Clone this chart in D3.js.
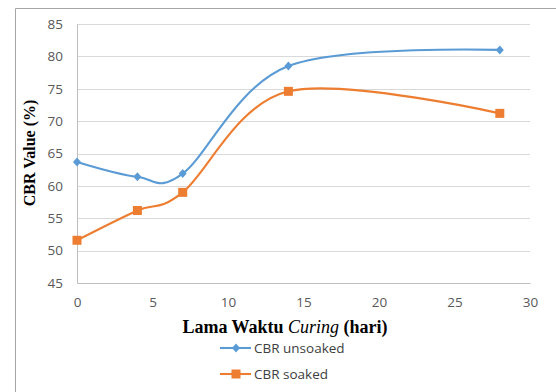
<!DOCTYPE html>
<html><head><meta charset="utf-8">
<script src="https://cdn.jsdelivr.net/npm/d3@7"></script>
<style>body{margin:0;background:#fff}svg{display:block}</style>
</head><body>
<svg id="c" width="556" height="392"></svg>
<script>
const days = [0, 4, 7, 14, 28];
const unsoaked = [63.7, 61.4, 61.9, 78.5, 81.0];
const soaked = [51.6, 56.2, 59.0, 74.6, 71.2];
const xTicks = [0, 5, 10, 15, 20, 25, 30];
const yTicks = [45, 50, 55, 60, 65, 70, 75, 80, 85];
const seriesNames = ["CBR unsoaked", "CBR soaked"];
const colors = ["#5B9BD5", "#ED7D31"];

const svg = d3.select("#c");
const x = d3.scaleLinear().domain([0, 30]).range([77, 530]);
const y = d3.scaleLinear().domain([45, 85]).range([283, 24]);

// frame
svg.append("path").attr("d", "M15.5,392 V8.5 H556").attr("fill", "none").attr("stroke", "#a6a6a6").attr("stroke-width", 1);

// gridlines
svg.append("g").selectAll("line").data(yTicks.slice(1)).join("line")
  .attr("x1", x(0)).attr("x2", x(30))
  .attr("y1", d => Math.round(y(d)) + 0.5).attr("y2", d => Math.round(y(d)) + 0.5)
  .attr("stroke", "#d9d9d9").attr("stroke-width", 1);

// axes
const yAx = svg.append("g").attr("transform", `translate(${x(0)},0)`)
  .call(d3.axisLeft(y).tickValues(yTicks).tickSize(0).tickPadding(14));
const xAx = svg.append("g").attr("transform", `translate(0,${y(45)})`)
  .call(d3.axisBottom(x).tickValues(xTicks).tickSize(0).tickPadding(14));
[yAx, xAx].forEach(a => {
  a.select(".domain").attr("stroke", "#bfbfbf");
  a.selectAll("text").attr("fill", "#595959").style("font-family", "'Open Sans', sans-serif").style("font-size", "13.5px");
});

// lines
const line = d3.line().x(d => x(d[0])).y(d => y(d[1])).curve(d3.curveCatmullRom.alpha(0));
[unsoaked, soaked].forEach((s, i) => {
  svg.append("path").datum(days.map((d, j) => [d, s[j]]))
    .attr("d", line).attr("fill", "none").attr("stroke", colors[i]).attr("stroke-width", 2.1);
});

function marker(g, i, cx, cy) {
  if (i === 0) {
    g.append("path").attr("d", `M${cx},${cy-4.5}L${cx+4},${cy}L${cx},${cy+4.5}L${cx-4},${cy}Z`).attr("fill", colors[0]);
  } else {
    g.append("rect").attr("x", cx - 4.5).attr("y", cy - 4.5).attr("width", 9).attr("height", 9).attr("fill", colors[1]);
  }
}
const mg = svg.append("g");
[unsoaked, soaked].forEach((s, i) => {
  days.forEach((d, j) => marker(mg, i, x(d), y(s[j])));
});

// axis titles
svg.append("text").attr("transform", "translate(35,153) rotate(-90)")
  .attr("text-anchor", "middle").style("font-family", "'Liberation Serif', serif")
  .style("font-weight", "bold").style("font-size", "16px").text("CBR Value (%)");
const xt = svg.append("text").attr("x", 285).attr("y", 333).attr("text-anchor", "middle")
  .style("font-family", "'Liberation Serif', serif").style("font-weight", "bold").style("font-size", "18px");
xt.append("tspan").text("Lama Waktu ");
xt.append("tspan").style("font-style", "italic").style("font-weight", "normal").text("Curing");
xt.append("tspan").text(" (hari)");

// legend
const leg = svg.append("g");
seriesNames.forEach((n, i) => {
  const ly = 348 + i * 26;
  leg.append("line").attr("x1", 220).attr("x2", 251).attr("y1", ly).attr("y2", ly).attr("stroke", colors[i]).attr("stroke-width", 2.1);
  marker(leg, i, 236, ly);
  leg.append("text").attr("x", 254).attr("y", ly + 5).attr("fill", "#404040")
    .style("font-family", "'Open Sans', sans-serif").style("font-size", "13.5px").text(n);
});
</script>
</body></html>
